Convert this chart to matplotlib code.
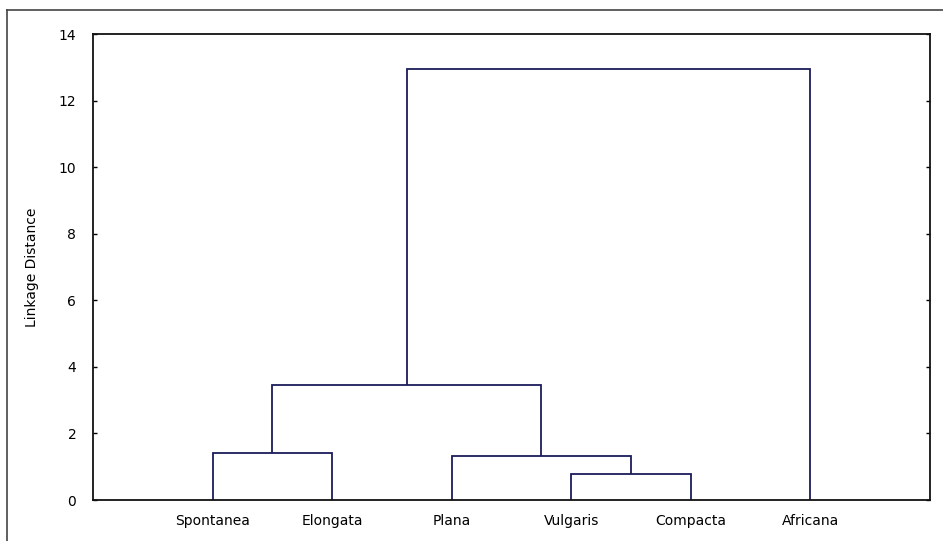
import matplotlib
matplotlib.use("Agg")
import matplotlib.pyplot as plt
from matplotlib.lines import Line2D

# Leaf order along the x axis
leaves = ["Spontanea", "Elongata", "Plana", "Vulgaris", "Compacta", "Africana"]

# Agglomeration steps: (left member, right member, linkage distance)
# members are leaf names or indices of earlier clusters ("c0", "c1", ...)
merges = [
    ("Vulgaris", "Compacta", 0.77),
    ("Plana", "c0", 1.33),
    ("Spontanea", "Elongata", 1.40),
    ("c2", "c1", 3.45),
    ("c3", "Africana", 12.96),
]

y_ticks = [0, 2, 4, 6, 8, 10, 12, 14]

line_color = "#1c1c5c"

fig = plt.figure(figsize=(9.43, 5.41), dpi=100)
ax = fig.add_axes([93 / 943, 41 / 541, 837 / 943, 466 / 541])

pos = {name: i + 1 for i, name in enumerate(leaves)}
height = {name: 0.0 for name in leaves}
for k, (a, b, d) in enumerate(merges):
    xa, xb = pos[a], pos[b]
    ha, hb = height[a], height[b]
    ax.plot([xa, xa, xb, xb], [ha, d, d, hb], color=line_color, lw=1.3,
            solid_joinstyle="miter", solid_capstyle="butt")
    key = f"c{k}"
    pos[key] = (xa + xb) / 2
    height[key] = d

ax.set_xlim(0, len(leaves) + 1)
ax.set_ylim(0, 14)
ax.set_xticks(range(1, len(leaves) + 1))
ax.set_xticklabels(leaves, fontsize=10)
ax.set_yticks(y_ticks)
ax.set_yticklabels([str(t) for t in y_ticks], fontsize=10)
ax.tick_params(axis="x", length=0, pad=10)
ax.tick_params(axis="y", direction="in", length=3, width=1, right=True, pad=12)
for s in ax.spines.values():
    s.set_linewidth(1.3)
    s.set_color("#111111")
ax.set_ylabel("Linkage Distance", fontsize=10, labelpad=14)

# Outer frame along the top and left edges of the figure
fig.add_artist(Line2D([7.5 / 943, 1.0], [1 - 9.5 / 541, 1 - 9.5 / 541],
                      transform=fig.transFigure, color="#444444", lw=1.2))
fig.add_artist(Line2D([7.5 / 943, 7.5 / 943], [0.0, 1 - 9.5 / 541],
                      transform=fig.transFigure, color="#444444", lw=1.2))

fig.savefig("out.png", dpi=100)
